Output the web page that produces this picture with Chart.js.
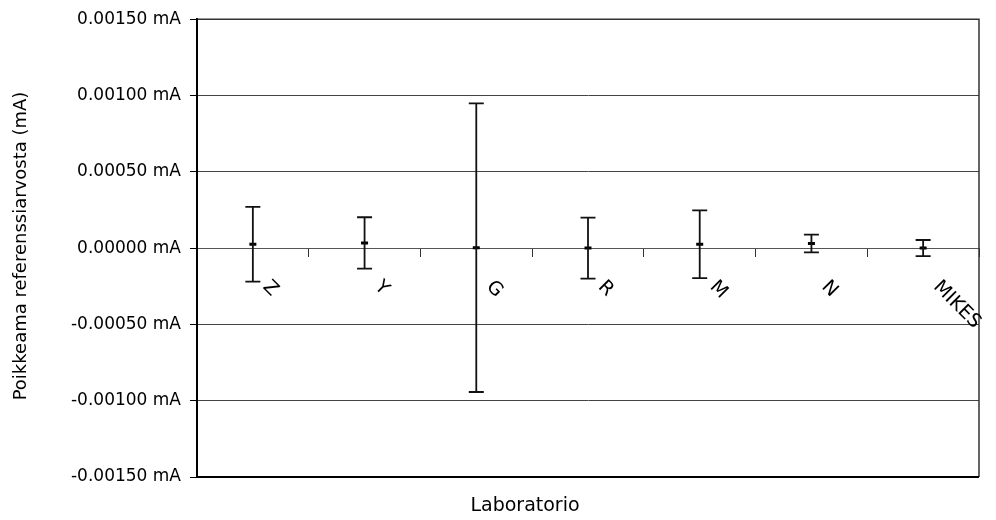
<!DOCTYPE html>
<html>
<head>
<meta charset="utf-8">
<script src="https://cdn.jsdelivr.net/npm/chart.js@4"></script>
<style>
  html, body { margin: 0; padding: 0; background: #fff; }
  #wrap { width: 996px; height: 520px; }
</style>
</head>
<body>
<div id="wrap"><canvas id="chart"></canvas></div>
<script>
// Labs and their deviation from reference value (mA)
const labs = ["Z", "Y", "G", "R", "M", "N", "MIKES"];
const deviation = [0.000025, 0.000034, 0.000003, 0.000000, 0.000025, 0.000030, 0.000000];
const uncertainty = [0.000245, 0.000168, 0.000946, 0.000200, 0.000222, 0.000058, 0.000053];

const yMin = -0.0015, yMax = 0.0015, yStep = 0.0005;
const font = "'DejaVu Sans', sans-serif";

// Error bars, rotated category labels, axis titles and plot frame
const extras = {
  id: "extras",
  afterDatasetsDraw(chart) {
    const { ctx, scales: { x, y }, chartArea: a } = chart;
    ctx.save();
    ctx.strokeStyle = "#111";
    ctx.lineWidth = 1.8;
    labs.forEach((l, i) => {
      const px = x.getPixelForValue(i);
      const top = y.getPixelForValue(deviation[i] + uncertainty[i]);
      const bot = y.getPixelForValue(deviation[i] - uncertainty[i]);
      ctx.beginPath();
      ctx.moveTo(px, top); ctx.lineTo(px, bot);
      ctx.moveTo(px - 7.5, top); ctx.lineTo(px + 7.5, top);
      ctx.moveTo(px - 7.5, bot); ctx.lineTo(px + 7.5, bot);
      ctx.stroke();
    });
    // frame
    ctx.strokeStyle = "#333";
    ctx.lineWidth = 1.5;
    ctx.beginPath();
    ctx.moveTo(a.left, a.top); ctx.lineTo(a.right, a.top); ctx.lineTo(a.right, a.bottom);
    ctx.stroke();
    ctx.strokeStyle = "#000";
    ctx.lineWidth = 2;
    ctx.beginPath();
    ctx.moveTo(a.left, a.top); ctx.lineTo(a.left, a.bottom); ctx.lineTo(a.right, a.bottom);
    ctx.stroke();

    // category labels, turned 45 degrees
    const zero = y.getPixelForValue(0);
    ctx.fillStyle = "#000";
    ctx.font = "19px " + font;
    ctx.textAlign = "left";
    ctx.textBaseline = "middle";
    labs.forEach((l, i) => {
      ctx.save();
      ctx.translate(x.getPixelForValue(i) + 13, zero + 36);
      ctx.rotate(Math.PI / 4);
      ctx.fillText(l, 0, 0);
      ctx.restore();
    });

    // axis titles
    ctx.font = "19px " + font;
    ctx.textAlign = "center";
    ctx.fillText("Laboratorio", 525, 506);
    ctx.save();
    ctx.translate(21, 246);
    ctx.rotate(-Math.PI / 2);
    ctx.font = "18px " + font;
    ctx.fillText("Poikkeama referenssiarvosta (mA)", 0, 0);
    ctx.restore();
    ctx.restore();
  }
};

new Chart(document.getElementById("chart"), {
  type: "line",
  data: {
    labels: labs,
    datasets: [{
      data: deviation,
      showLine: false,
      pointStyle: "line",
      pointRadius: 3.5,
      pointBorderWidth: 3,
      borderColor: "#000",
      backgroundColor: "#000"
    }]
  },
  options: {
    responsive: true,
    maintainAspectRatio: false,
    animation: false,
    layout: { padding: { top: 19, right: 17, bottom: 43, left: 0 } },
    plugins: { legend: { display: false }, tooltip: { enabled: false } },
    scales: {
      x: {
        type: "category",
        offset: true,
        position: { y: 0 },
        afterFit: s => { s.height = 0; },
        ticks: { display: false },
        grid: { drawOnChartArea: false, offset: true, tickLength: 8, color: "#333", lineWidth: 1 },
        border: { color: "#555", width: 1 }
      },
      y: {
        min: yMin,
        max: yMax,
        afterFit: s => { s.width = 197; },
        ticks: {
          stepSize: yStep,
          padding: 9,
          color: "#000",
          font: { family: font, size: 17 },
          callback: v => (Math.abs(v) < 1e-12 ? 0 : v).toFixed(5) + " mA"
        },
        grid: { color: "#444", lineWidth: 1, tickLength: 7, tickColor: "#000" },
        border: { color: "#000", width: 2 }
      }
    }
  },
  plugins: [extras]
});
</script>
</body>
</html>
